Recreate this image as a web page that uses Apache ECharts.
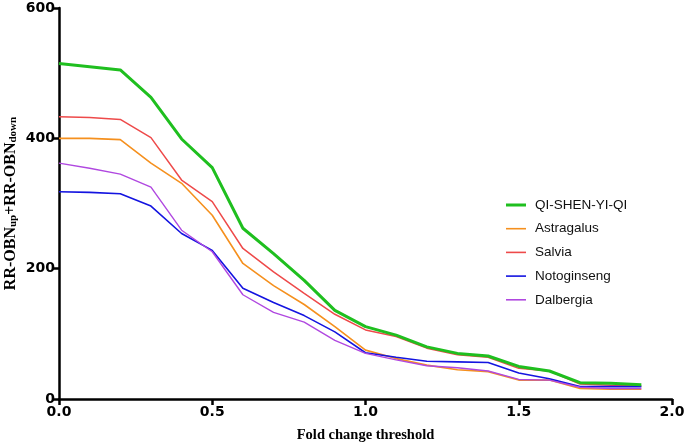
<!DOCTYPE html>
<html>
<head>
<meta charset="utf-8">
<script src="https://cdn.jsdelivr.net/npm/echarts@6/dist/echarts.min.js"></script>
<style>html,body{margin:0;padding:0;background:#fff}#c{width:685px;height:444px}</style>
</head>
<body>
<div id="c"></div>
<script>
const thresholds = [0.0,0.1,0.2,0.3,0.4,0.5,0.6,0.7,0.8,0.9,1.0,1.1,1.2,1.3,1.4,1.5,1.6,1.7,1.8,1.9];
const qiShenYiQi = [515,510,505,463,399,355,262,223,182,136,111,98,80,70,66,50,43,25,24,22];
const astragalus = [400,400,398,362,331,282,208,174,145,111,75,62,52,45,42,29,29,16,15,15];
const salvia     = [433,432,429,401,336,303,231,195,162,130,106,96,78,68,64,47,43,23,21,20];
const notoginseng= [318,317,315,296,254,228,170,148,128,103,71,64,58,57,56,40,31,19,19,19];
const dalbergia  = [362,354,345,325,259,226,160,133,118,90,70,60,51,48,43,30,29,18,16,16];
const seriesNames = ['QI-SHEN-YI-QI','Astragalus','Salvia','Notoginseng','Dalbergia'];
const xTicks = [0.0,0.5,1.0,1.5,2.0];
const yTicks = [0,200,400,600];

const colors = ['#1fbf1f','#f5901e','#ee4a4a','#1414e0','#b048e0'];
const widths = [3,1.6,1.5,1.6,1.4];
const values = [qiShenYiQi, astragalus, salvia, notoginseng, dalbergia];

const chart = echarts.init(document.getElementById('c'));
const series = values.map((v,i)=>({
  name: seriesNames[i],
  type: 'line',
  data: thresholds.map((x,j)=>[x, v[j]]),
  symbol: 'none',
  lineStyle: {color: colors[i], width: widths[i]},
  itemStyle: {color: colors[i]},
  z: i===0 ? 5 : 3
}));
const ordered = series.slice(1).concat([series[0]]);

chart.setOption({
  animation: false,
  grid: {left: 59, right: 13, top: 8, bottom: 45, containLabel: false, outerBoundsMode: 'none'},
  legend: {
    data: seriesNames.map((n,i)=>({
      name: n,
      icon: i===0 ? 'path://M0,0h20v3h-20z' : 'path://M0,0h20v1.6h-20z',
      itemStyle: {color: colors[i]}
    })),
    orient: 'vertical',
    left: 506, top: 198, padding: 0,
    symbolKeepAspect: true,
    itemWidth: 20, itemHeight: 14, itemGap: 9.7,
    textStyle: {fontFamily: 'Liberation Sans, Arial', fontSize: 13.5, color: '#111', padding: [0,0,0,4]}
  },
  xAxis: {
    type: 'value', min: 0, max: 2, interval: 0.5,
    name: 'Fold change threshold',
    nameLocation: 'middle', nameGap: 29, nameMoveOverlap: false,
    nameTextStyle: {fontFamily: 'Liberation Serif, Times New Roman, serif', fontWeight: 'bold', fontSize: 14.5, color: '#000'},
    axisLine: {lineStyle: {color: '#000', width: 2.5}},
    axisTick: {length: 6, lineStyle: {color: '#000', width: 2.5}},
    axisLabel: {
      formatter: v => xTicks.includes(v) ? v.toFixed(1) : '',
      fontFamily: 'DejaVu Sans', fontWeight: 'bold', fontSize: 14, color: '#000', margin: 6
    },
    splitLine: {show: false}
  },
  yAxis: {
    type: 'value', min: 0, max: 600, interval: 200,
    name: '{m|RR-OBN}{s|up}{m|+RR-OBN}{s|down}',
    nameLocation: 'middle', nameGap: 40, nameMoveOverlap: false,
    nameTextStyle: {
      rich: {
        m: {fontFamily: 'Liberation Serif, Times New Roman, serif', fontWeight: 'bold', fontSize: 16, color: '#000', lineHeight: 20, verticalAlign: 'bottom'},
        s: {fontFamily: 'Liberation Serif, Times New Roman, serif', fontWeight: 'bold', fontSize: 11, color: '#000', lineHeight: 20, verticalAlign: 'bottom', padding: [6,0,0,0]}
      }
    },
    axisLine: {show: true, lineStyle: {color: '#000', width: 2.5}},
    axisTick: {show: true, length: 6, lineStyle: {color: '#000', width: 2.5}},
    axisLabel: {
      formatter: v => yTicks.includes(v) ? String(v) : '',
      fontFamily: 'DejaVu Sans', fontWeight: 'bold', fontSize: 14, color: '#000', margin: 4
    },
    splitLine: {show: false}
  },
  series: ordered
});
</script>
</body>
</html>
